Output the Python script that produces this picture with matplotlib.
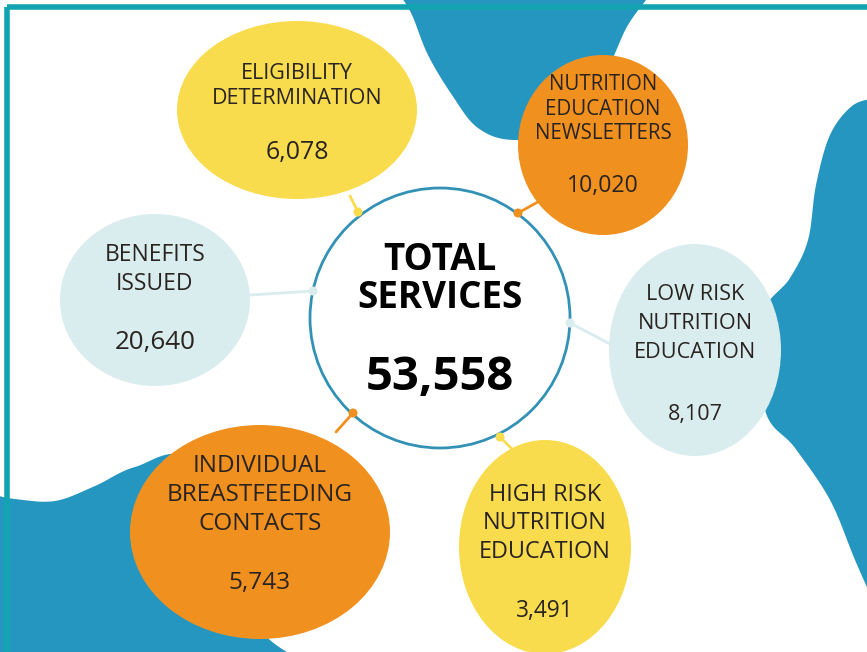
import numpy as np
import matplotlib
matplotlib.use("Agg")
import matplotlib.pyplot as plt
from matplotlib.patches import Ellipse, Circle, Polygon, Rectangle

# Data
labels = [["ELIGIBILITY", "DETERMINATION"],
          ["NUTRITION", "EDUCATION", "NEWSLETTERS"],
          ["BENEFITS", "ISSUED"],
          ["LOW RISK", "NUTRITION", "EDUCATION"],
          ["INDIVIDUAL", "BREASTFEEDING", "CONTACTS"],
          ["HIGH RISK", "NUTRITION", "EDUCATION"]]
values = [6078, 10020, 20640, 8107, 5743, 3491]
total_label = ["TOTAL", "SERVICES"]
total_value = 53558

YELLOW = "#f9dc4e"
ORANGE = "#f0901f"
LIGHT = "#d9ecee"
BLUE = "#2596bf"
TEAL = "#12a5b1"
TXT = "#2a2421"
colors = [YELLOW, ORANGE, LIGHT, LIGHT, ORANGE, YELLOW]

# layout in pixels: centre, radii, label line ys, value y, font sizes, connector start, dot
bubbles = [
    dict(c=(297, 110), r=(120, 89), ly=[71, 96], vy=149, fs=15.5, vs=17.9, s=(350, 196), d=(358, 212)),
    dict(c=(603, 145), r=(85, 90), ly=[82, 107, 131], vy=183, fs=14.8, vs=16.7, s=(545, 198), d=(518, 213)),
    dict(c=(155, 300), r=(95, 86), ly=[252, 281], vy=340, fs=16.5, vs=18.7, s=(250, 295), d=(313, 291)),
    dict(c=(695, 350), r=(86, 106), ly=[292, 321, 350], vy=412, fs=15.6, vs=15.5, s=(612, 345), d=(570, 323)),
    dict(c=(260, 532), r=(130, 107), ly=[463, 492, 521], vy=580, fs=17.5, vs=17.6, s=(336, 432), d=(353, 413)),
    dict(c=(545, 547), r=(86, 107), ly=[492, 520, 549], vy=608, fs=16.9, vs=16.3, s=(512, 449), d=(500, 437)),
]
CX, CY, R = 440, 318, 130
FONT = "Open Sans"


def smooth(pts, n=30):
    pts = np.asarray(pts, float)
    pts = np.vstack([pts[0], pts, pts[-1]])
    out = []
    for i in range(1, len(pts) - 2):
        p0, p1, p2, p3 = pts[i - 1], pts[i], pts[i + 1], pts[i + 2]
        t = np.linspace(0, 1, n)[:, None]
        out.append(0.5 * ((2 * p1) + (-p0 + p2) * t + (2 * p0 - 5 * p1 + 4 * p2 - p3) * t ** 2
                          + (-p0 + 3 * p1 - 3 * p2 + p3) * t ** 3))
    return np.vstack(out)


fig = plt.figure(figsize=(8.67, 6.52), dpi=100)
ax = fig.add_axes([0, 0, 1, 1])
ax.set_xlim(0, 867)
ax.set_ylim(652, 0)
ax.axis("off")

# background blobs
top_blob = smooth([(400, -5), (412, 15), (428, 55), (452, 95), (478, 128), (515, 140),
                   (580, 130), (612, 60), (628, 25), (650, -5)])
ax.add_patch(Polygon(top_blob, closed=True, fc=BLUE, ec="none", zorder=1))

right_blob = smooth([(875, 98), (852, 106), (830, 135), (816, 185), (808, 240), (790, 278),
                     (760, 320), (765, 410), (795, 448), (830, 500), (855, 560), (875, 605)])
ax.add_patch(Polygon(right_blob, closed=True, fc=BLUE, ec="none", zorder=1))

bl_blob = smooth([(-5, 495), (15, 499), (55, 501), (95, 486), (135, 467), (190, 460),
                  (250, 560), (252, 615), (270, 640), (300, 660)])
bl_blob = np.vstack([bl_blob, [(-5, 660)]])
ax.add_patch(Polygon(bl_blob, closed=True, fc=BLUE, ec="none", zorder=1))

# frame
ax.add_patch(Rectangle((6.5, 6.5), 900, 700, fc="none", ec=TEAL, lw=4, zorder=6))

# connectors and bubbles
for b, col, lab, val in zip(bubbles, colors, labels, values):
    (cx, cy), (rx, ry) = b["c"], b["r"]
    ax.plot([b["s"][0], b["d"][0]], [b["s"][1], b["d"][1]], color=col, lw=2, zorder=2,
            solid_capstyle="round")
    ax.add_patch(Ellipse((cx, cy), 2 * rx, 2 * ry, fc=col, ec="none", zorder=3))
    for line, y in zip(lab, b["ly"]):
        ax.text(cx, y, line, ha="center", va="center_baseline", fontsize=b["fs"], family=FONT,
                color=TXT, zorder=4)
    ax.text(cx, b["vy"], f"{val:,}", ha="center", va="center_baseline", fontsize=b["vs"],
            family=FONT, color=TXT, zorder=4)

# centre circle
ax.add_patch(Circle((CX, CY), R, fc="white", ec="#3391b6", lw=2, zorder=4))
for b, col in zip(bubbles, colors):
    ax.add_patch(Circle(b["d"], 4.5, fc=col, ec="none", zorder=5))
for line, y in zip(total_label, [256, 294]):
    ax.text(CX, y, line, ha="center", va="center_baseline", fontsize=26.5, family=FONT,
            weight="bold", color="black", zorder=5)
ax.text(CX, 372, f"{total_value:,}", ha="center", va="center_baseline", fontsize=34,
        family=FONT, weight="bold", color="black", zorder=5)

fig.savefig("out.png", dpi=100)
